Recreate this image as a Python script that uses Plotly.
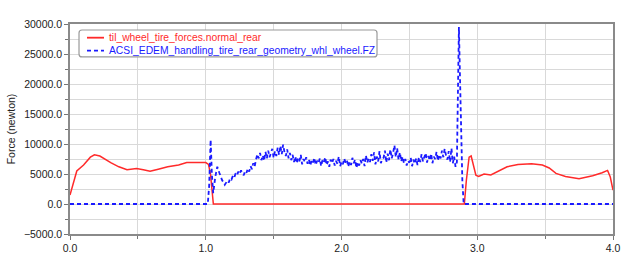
import numpy as np
import plotly.graph_objects as go

# Red series: til_wheel_tire_forces.normal_rear
red_t = [0, 0.02, 0.05, 0.1, 0.15, 0.18, 0.22, 0.3, 0.36, 0.42, 0.49, 0.54, 0.59, 0.65,
         0.72, 0.8, 0.86, 0.95, 1.0, 1.02, 1.035, 1.056, 2.905, 2.92, 2.94, 2.955, 2.97,
         2.99, 3.01, 3.05, 3.1, 3.15, 3.22, 3.3, 3.4, 3.48, 3.53, 3.58, 3.65, 3.75, 3.85,
         3.92, 3.96, 3.98, 4.0]
red_f = [1500, 3000, 5500, 6500, 7800, 8200, 8000, 6900, 6200, 5700, 5900, 5700, 5450, 5800,
         6200, 6500, 6900, 6900, 6900, 6600, 5000, 0, 0, 4000, 7800, 8000, 6500,
         4800, 4600, 5000, 4850, 5400, 6200, 6600, 6700, 6500, 6000, 5100, 4600, 4200, 4700,
         5200, 5600, 4500, 2300]

# Blue series: ACSI_EDEM_handling_tire_rear_geometry_whl_wheel.FZ
blue_head_t = [0, 1.0, 1.015, 1.025, 1.036, 1.045, 1.055, 1.07, 1.085, 1.10, 1.12, 1.14]
blue_head_f = [0, 0, 0, 3000, 10700, 5000, 1800, 4500, 6200, 5200, 4000, 3200]

blue_noise_start = 1.15
blue_noise_step = 0.01
blue_noise_f = [
    3500, 3900, 3600, 4300, 4100, 4700, 4400, 5100, 4800, 5400,
    5000, 5600, 5100, 4800, 5500, 5200, 5900, 5400, 6300, 5800,
    6800, 6200, 7400, 8300, 7600, 8500, 7300, 8100, 7200, 8700,
    7600, 8900, 7800, 8400, 9200, 7700, 8800, 8000, 9400, 8200,
    9700, 8300, 9900, 8600, 8000, 9100, 7600, 8500, 7300, 8200,
    7000, 7900, 6800, 7600, 7100, 8200, 6600, 7500, 7000, 7800,
    6700, 7400, 6400, 7300, 6900, 7700, 6500, 7200, 6800, 7600,
    6300, 7300, 6900, 7800, 6500, 7100, 6200, 7400, 6800, 7500,
    6400, 7200, 6700, 7900, 6300, 7000, 6600, 7600, 6900, 7300,
    6200, 7100, 6500, 7700, 6800, 7400, 6000, 7000, 6400, 7300,
    6700, 7500, 6300, 8100, 6900, 7600, 7000, 8300, 7200, 8600,
    6600, 7900, 7100, 8800, 6800, 7500, 7700, 8900, 6900, 8400,
    7300, 9100, 7600, 8500, 9800, 7800, 9300, 7400, 8600, 7100,
    7900, 6800, 7500, 6400, 7200, 6900, 7700, 6300, 7400, 6700,
    7600, 6500, 7800, 7000, 8300, 7100, 7700, 8500, 6900, 8000,
    7300, 8400, 6800, 7900, 7500, 8700, 7200, 8200, 7600, 8900,
    7800, 9200, 8100, 7400, 8800, 7000, 9300, 6800, 7900, 6200,
]
blue_tail_t = [2.850, 2.858, 2.865, 2.872, 2.88, 2.89, 2.9, 4.0]
blue_tail_f = [7000, 20000, 29500, 22000, 12000, 4000, 0, 0]

noise_t = list(blue_noise_start + blue_noise_step * np.arange(len(blue_noise_f)))
blue_t = blue_head_t + noise_t + blue_tail_t
blue_f = blue_head_f + blue_noise_f + blue_tail_f

x_ticks = [0, 1, 2, 3, 4]
y_ticks = [-5000, 0, 5000, 10000, 15000, 20000, 25000, 30000]

series_names = ["til_wheel_tire_forces.normal_rear",
                "ACSI_EDEM_handling_tire_rear_geometry_whl_wheel.FZ"]

RED = "#ff2a2a"
BLUE = "#1a1aff"
RED_DASH = "solid"
BLUE_DASH = "4px,3px"

fig = go.Figure()
fig.add_trace(go.Scatter(
    x=red_t, y=red_f, mode="lines",
    line=dict(color=RED, width=1.5, dash=RED_DASH),
    name=series_names[0], showlegend=False,
))
fig.add_trace(go.Scatter(
    x=blue_t, y=blue_f, mode="lines",
    line=dict(color=BLUE, width=1.8, dash=BLUE_DASH),
    name=series_names[1], showlegend=False,
))

font = "Liberation Sans, Arial, sans-serif"

# Compact legend box (drawn in paper coordinates, rounded corners)
bx0, bx1, by0, by1 = 0.0166, 0.5654, 0.843, 0.9714
rx, ry = 0.0055, 0.0143
box_path = (f"M {bx0+rx},{by0} L {bx1-rx},{by0} Q {bx1},{by0} {bx1},{by0+ry} "
            f"L {bx1},{by1-ry} Q {bx1},{by1} {bx1-rx},{by1} "
            f"L {bx0+rx},{by1} Q {bx0},{by1} {bx0},{by1-ry} "
            f"L {bx0},{by0+ry} Q {bx0},{by0} {bx0+rx},{by0} Z")
rows_y = [0.9348, 0.8729]
sample_x = (0.0313, 0.0626)
text_x = 0.0681
shapes = [dict(type="path", xref="paper", yref="paper", path=box_path,
               line=dict(color="#9a9a9a", width=1.2), fillcolor="white", layer="above")]
annotations = []
for name, color, dash, yy in zip(series_names, [RED, BLUE], [RED_DASH, BLUE_DASH], rows_y):
    shapes.append(dict(type="line", xref="paper", yref="paper",
                       x0=sample_x[0], x1=sample_x[1], y0=yy, y1=yy,
                       line=dict(color=color, width=1.8, dash=dash), layer="above"))
    annotations.append(dict(xref="paper", yref="paper", x=text_x, y=yy,
                            xanchor="left", yanchor="middle", text=name, showarrow=False,
                            font=dict(color=color, size=10.3, family=font)))

fig.update_layout(
    width=624, height=261,
    margin=dict(l=70, r=11, t=24, b=27),
    paper_bgcolor="white", plot_bgcolor="white",
    font=dict(family=font, size=10.5, color="#222"),
    showlegend=False,
    shapes=shapes, annotations=annotations,
    xaxis=dict(
        range=[0, 4], tickvals=x_ticks, tickformat=".1f", automargin=False,
        showgrid=True, gridcolor="#d9d9d9", gridwidth=1,
        minor=dict(dtick=0.5, showgrid=True, gridcolor="#d9d9d9", ticks="outside", ticklen=3, tickcolor="#777"),
        showline=True, linecolor="#8a8a8a", linewidth=1.5, mirror=True,
        ticks="outside", ticklen=4, tickcolor="#777",
        zeroline=False, tickfont=dict(size=10.5),
    ),
    yaxis=dict(
        range=[-5000, 30000], tickvals=y_ticks, tickformat=".1f", automargin=False,
        showgrid=True, gridcolor="#d9d9d9", gridwidth=1,
        minor=dict(dtick=2500, showgrid=True, gridcolor="#d9d9d9", ticks="outside", ticklen=3, tickcolor="#777"),
        showline=True, linecolor="#8a8a8a", linewidth=1.5, mirror=True,
        ticks="outside", ticklen=4, tickcolor="#777",
        zeroline=False, tickfont=dict(size=10.5),
        title=dict(text="Force (newton)", font=dict(size=10.5), standoff=6),
    ),
)

fig.write_html("out.html")
